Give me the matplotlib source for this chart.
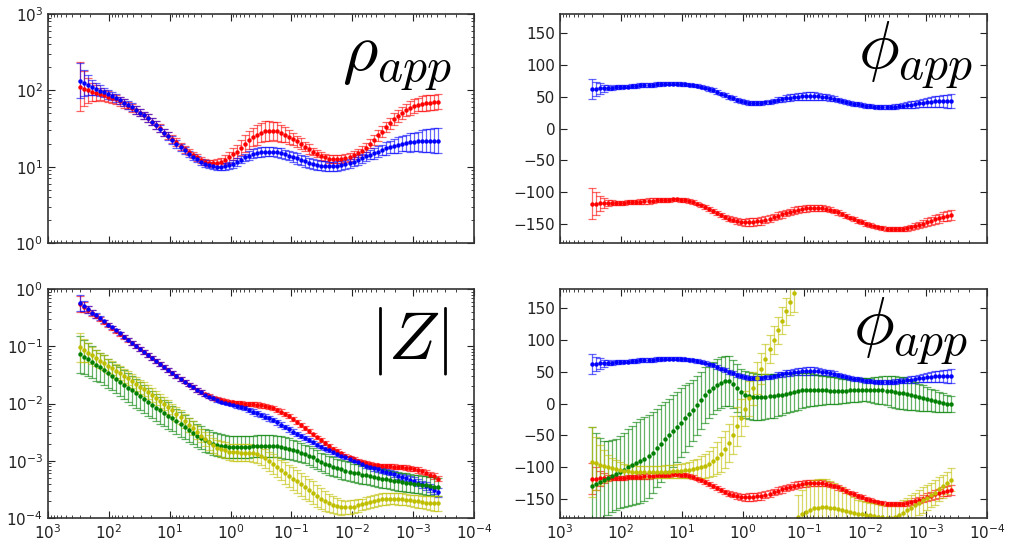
import numpy as np
import matplotlib
matplotlib.use("Agg")
import matplotlib.pyplot as plt
from matplotlib.ticker import LogLocator, NullFormatter, FixedLocator

plt.rcParams["mathtext.fontset"] = "cm"
plt.rcParams["font.family"] = ["DejaVu Sans"]

# Sounding frequencies (Hz), high to low
freq = np.logspace(2.475, -3.41, 90)

# Apparent resistivity (ohm-m)
rho_xy = [134, 125, 117, 110, 104, 99, 94, 89, 84, 79,
          74, 69, 64, 60, 55, 51, 47, 43, 39, 35,
          31.5, 28, 25, 22.5, 20, 18, 16.3, 14.8, 13.5, 12.5,
          11.6, 11, 10.5, 10.2, 10, 10, 10.1, 10.4, 10.9, 11.6,
          12.4, 13.2, 14, 14.7, 15.2, 15.6, 15.8, 15.8, 15.7, 15.5,
          15.1, 14.6, 14, 13.4, 12.8, 12.2, 11.7, 11.2, 10.8, 10.5,
          10.3, 10.2, 10.1, 10.1, 10.2, 10.4, 10.7, 11.1, 11.6, 12.2,
          12.9, 13.6, 14.3, 15, 15.8, 16.6, 17.3, 18, 18.7, 19.3,
          19.9, 20.4, 20.8, 21.1, 21.4, 21.6, 21.8, 21.9, 22, 22]
rho_yx = [111, 105, 100, 96, 92, 89, 86, 83, 79, 76,
          72, 68, 63, 59, 55, 51, 47, 43, 39, 35,
          32, 28, 25.5, 23, 21, 18.6, 17, 15.5, 14.1, 13.2,
          12.3, 11.6, 11.2, 11.1, 11.2, 11.6, 12.3, 13.2, 14.5, 15.8,
          17.8, 20, 22.4, 24.5, 26.3, 28, 29, 29.5, 29.5, 29,
          27.5, 26.3, 24.5, 23, 21.4, 20, 18.2, 17, 15.8, 14.8,
          13.8, 13.2, 12.7, 12.5, 12.5, 12.6, 12.9, 13.5, 14.1, 15.1,
          16.2, 17.8, 20, 22.4, 25.7, 28.8, 33, 37, 41.7, 45.7,
          50, 55, 59, 62, 65, 67, 68, 69, 70, 71]
# half-width of the resistivity error bars, in decades
rho_xy_err = [0.23, 0.17, 0.13, 0.1, 0.08, 0.07, 0.06, 0.06, 0.05, 0.05,
              0.05, 0.05, 0.05, 0.05, 0.05, 0.05, 0.05, 0.05, 0.05, 0.05,
              0.05, 0.05, 0.05, 0.05, 0.05, 0.045, 0.045, 0.04, 0.04, 0.04,
              0.04, 0.04, 0.04, 0.04, 0.045, 0.05, 0.05, 0.05, 0.05, 0.05,
              0.05, 0.05, 0.055, 0.06, 0.06, 0.06, 0.06, 0.06, 0.06, 0.06,
              0.06, 0.06, 0.06, 0.07, 0.07, 0.07, 0.07, 0.07, 0.07, 0.07,
              0.06, 0.06, 0.06, 0.06, 0.06, 0.06, 0.06, 0.06, 0.06, 0.06,
              0.06, 0.06, 0.06, 0.07, 0.07, 0.07, 0.08, 0.08, 0.09, 0.1,
              0.1, 0.11, 0.12, 0.12, 0.13, 0.14, 0.15, 0.15, 0.16, 0.16]
rho_yx_err = [0.32, 0.23, 0.16, 0.12, 0.1, 0.08, 0.07, 0.07, 0.06, 0.06,
              0.06, 0.06, 0.05, 0.05, 0.05, 0.05, 0.05, 0.05, 0.05, 0.05,
              0.05, 0.05, 0.05, 0.05, 0.05, 0.045, 0.045, 0.04, 0.04, 0.04,
              0.04, 0.04, 0.04, 0.045, 0.05, 0.05, 0.06, 0.07, 0.08, 0.09,
              0.1, 0.11, 0.12, 0.12, 0.13, 0.13, 0.13, 0.13, 0.12, 0.12,
              0.11, 0.1, 0.09, 0.08, 0.07, 0.07, 0.06, 0.06, 0.05, 0.05,
              0.05, 0.05, 0.05, 0.05, 0.05, 0.05, 0.05, 0.05, 0.05, 0.05,
              0.06, 0.06, 0.06, 0.06, 0.07, 0.07, 0.07, 0.07, 0.08, 0.08,
              0.08, 0.08, 0.09, 0.09, 0.09, 0.1, 0.1, 0.1, 0.1, 0.1]

# Phase (degrees)
phi_xy = [62, 62, 63, 63, 64, 64, 65, 65, 66, 66,
          67, 67, 68, 68, 68.5, 69, 69.5, 70, 70.5, 70.5,
          70.5, 70.5, 70, 69.5, 69, 68, 67, 65.5, 64, 62,
          60, 57.5, 55, 52.5, 50, 47.5, 45, 43, 41.5, 40.5,
          40, 40, 40.5, 41, 42, 43.5, 45, 46, 47.5, 48.5,
          49.5, 50, 50.5, 51, 51, 51, 50.5, 50, 49, 48,
          46.5, 45, 43.5, 42, 40.5, 39, 38, 37, 36, 35,
          34.5, 34, 34, 34, 34, 34.5, 35, 35.5, 36.5, 37.5,
          38.5, 39.5, 40.5, 41, 42, 42.5, 43, 43, 43, 43]
phi_yx = [-118, -118, -117.5, -117.5, -117, -117, -117, -116.5, -116.5, -116,
          -116, -115.5, -115, -114.5, -114, -113.5, -113, -112.5, -112, -112,
          -111.5, -111.5, -112, -113, -114, -116, -118, -121, -124, -127,
          -130, -133, -136, -139, -141.5, -143.5, -145, -146.5, -147, -147,
          -146.5, -146, -145, -143.5, -141.5, -139.5, -137, -135, -133, -131,
          -129, -127.5, -126.5, -125.5, -125, -124.5, -124.5, -125, -126, -127.5,
          -129.5, -132, -134.5, -137, -140, -142.5, -145, -147.5, -150, -152,
          -154, -155.5, -156.5, -157.5, -158, -158.5, -158.5, -158, -157, -155.5,
          -153.5, -151.5, -149.5, -147, -145, -143, -141, -139, -137.5, -136]
phi_xx = [-130, -127, -124, -120.5, -117, -114, -111, -107.5, -104, -100.5,
          -97, -93.5, -90, -86.5, -83, -77, -70, -63, -56, -49.5,
          -43, -36.5, -30, -23.5, -17, -10.5, -3, 5, 13, 20,
          25, 29.5, 33, 35, 35, 31, 24, 18, 14, 12,
          11, 10.5, 10.5, 11, 11.5, 12, 13, 14, 15.5, 17,
          18.5, 19.5, 20.5, 21, 21.5, 21.5, 21, 21, 20.5, 20,
          20, 20, 20, 20, 20.5, 21, 21, 21.5, 21.5, 21.5,
          21.5, 21, 20.5, 20, 19, 18, 17, 16, 14.5, 13,
          11.5, 10, 8.5, 7, 5.5, 4, 2.5, 1, 0, -1]
phi_yy = [-91.5, -94, -96.5, -98.5, -100.5, -102, -103.5, -104.5, -105.5, -106.5,
          -107, -107.5, -107.5, -107.5, -107.5, -107.5, -107.5, -107.5, -107, -107,
          -106.5, -106, -105.5, -105, -104.5, -103.5, -102, -100, -98, -95,
          -91, -86, -80, -72, -62, -50, -36, -22, -8, 8,
          24, 40, 55, 70, 85, 100, 115, 130, 145, 160,
          174, -178, -174, -170, -167, -165, -163.5, -163, -163, -163.5,
          -164.5, -166, -167.5, -169, -170.5, -172, -173, -174, -175, -176,
          -177, -178, -179, -179.5, -179.5, -179, -176, -172, -168, -164,
          -160, -156, -152, -148, -144, -140, -135, -130, -125, -120]
phi_xy_err = [16, 11, 8, 6, 4, 3, 3, 3, 3, 3,
              3, 3, 3, 3, 3, 3, 3, 2.5, 2.5, 2.5,
              2.5, 2.5, 2.5, 2.5, 2.5, 2.5, 2.5, 2.5, 2.5, 2.5,
              3, 3, 3, 3, 3, 3, 3, 3, 3, 3,
              3, 3, 3, 3, 3.5, 3.5, 4, 4, 4.5, 5,
              5, 5.5, 6, 6, 6, 6, 5.5, 5, 4.5, 4,
              4, 3.5, 3.5, 3.5, 3, 3, 3, 3, 3, 3,
              3, 3, 3, 3, 3, 3.5, 3.5, 4, 4.5, 5,
              5.5, 6, 6.5, 7, 7.5, 8, 8.5, 9, 10, 11]
phi_yx_err = [25, 18, 12, 8, 5, 4, 3.5, 3, 3, 3,
              3, 3, 3.5, 4, 4, 3.5, 3, 3, 3, 3,
              3, 3, 3, 3, 3, 3, 3, 3, 3, 3,
              3, 3, 3, 3, 3.5, 4, 4.5, 5, 5.5, 6,
              6, 6, 6, 5.5, 5, 5, 5, 5, 5, 5,
              5, 5, 5, 5, 5, 5, 4.5, 4, 4, 3.5,
              3.5, 3.5, 3, 3, 3, 3, 3, 3, 3, 3,
              3, 3, 3, 3, 3, 3, 3, 3.5, 3.5, 4,
              4.5, 5, 5.5, 6, 6, 6.5, 7, 7, 7.5, 8]
phi_xx_err = [93, 80, 70, 62, 58, 56, 56, 57, 58, 60,
              62, 64, 66, 66, 65, 64, 62, 60, 58, 57,
              56, 55, 54, 52, 50, 48, 47, 45, 44, 42,
              41, 40, 40, 39, 39, 38, 38, 37, 37, 37,
              37, 36, 36, 35, 35, 34, 33, 32, 31, 30,
              30, 29, 28, 27, 26, 25, 24, 23, 22, 21,
              21, 20, 19, 19, 18, 18, 18, 18, 18, 19,
              20, 21, 22, 23, 24, 25, 25, 25, 24, 23,
              22, 21, 20, 19, 18, 17, 16, 15, 14, 13]
phi_yy_err = [55, 42, 32, 25, 20, 16, 14, 12, 11, 10,
              10, 10, 10, 10, 10, 10, 10, 10, 10, 10,
              10, 11, 11, 12, 13, 14, 15, 17, 19, 21,
              23, 25, 27, 29, 30, 30, 30, 29, 28, 27,
              26, 25, 24, 23, 22, 22, 21, 21, 21, 21,
              30, 34, 38, 42, 44, 45, 45, 45, 44, 42,
              40, 37, 34, 31, 28, 25, 22, 20, 20, 20,
              20, 20, 20, 20, 20, 20, 20, 20, 20, 20,
              20, 20, 20, 20, 19, 19, 19, 18, 18, 18]

# Impedance magnitude, stored as log10 |Z|
logz_xy = [-0.25, -0.30, -0.355, -0.41, -0.46, -0.51, -0.565, -0.62, -0.67, -0.72,
           -0.775, -0.83, -0.885, -0.94, -0.995, -1.05, -1.10, -1.15, -1.205, -1.26,
           -1.31, -1.36, -1.415, -1.47, -1.52, -1.57, -1.62, -1.67, -1.715, -1.76,
           -1.80, -1.845, -1.88, -1.91, -1.94, -1.965, -1.985, -2.0, -2.02, -2.04,
           -2.06, -2.08, -2.11, -2.14, -2.17, -2.20, -2.23, -2.26, -2.29, -2.33,
           -2.37, -2.41, -2.45, -2.49, -2.53, -2.57, -2.61, -2.645, -2.68, -2.72,
           -2.755, -2.79, -2.82, -2.85, -2.88, -2.91, -2.94, -2.97, -3.0, -3.03,
           -3.06, -3.09, -3.11, -3.13, -3.15, -3.17, -3.19, -3.21, -3.23, -3.26,
           -3.28, -3.30, -3.33, -3.35, -3.38, -3.41, -3.44, -3.47, -3.51, -3.55]
logz_yx = [-0.26, -0.31, -0.365, -0.42, -0.47, -0.52, -0.575, -0.63, -0.68, -0.73,
           -0.785, -0.84, -0.89, -0.94, -0.995, -1.05, -1.10, -1.15, -1.205, -1.26,
           -1.31, -1.36, -1.415, -1.47, -1.52, -1.57, -1.62, -1.67, -1.715, -1.76,
           -1.80, -1.84, -1.87, -1.90, -1.92, -1.94, -1.955, -1.97, -1.98, -1.99,
           -1.995, -2.0, -2.005, -2.01, -2.02, -2.03, -2.045, -2.06, -2.08, -2.11,
           -2.14, -2.18, -2.22, -2.27, -2.32, -2.37, -2.43, -2.48, -2.54, -2.59,
           -2.64, -2.69, -2.74, -2.79, -2.83, -2.87, -2.91, -2.94, -2.97, -3.0,
           -3.02, -3.04, -3.055, -3.07, -3.08, -3.085, -3.09, -3.095, -3.10, -3.105,
           -3.11, -3.12, -3.13, -3.145, -3.16, -3.18, -3.21, -3.24, -3.27, -3.31]
logz_xx = [-1.14, -1.19, -1.23, -1.28, -1.33, -1.37, -1.42, -1.47, -1.52, -1.57,
           -1.62, -1.67, -1.72, -1.77, -1.82, -1.87, -1.92, -1.97, -2.02, -2.07,
           -2.12, -2.16, -2.21, -2.26, -2.31, -2.36, -2.41, -2.46, -2.51, -2.56,
           -2.60, -2.64, -2.67, -2.70, -2.72, -2.74, -2.75, -2.76, -2.765, -2.765,
           -2.76, -2.76, -2.755, -2.75, -2.745, -2.74, -2.74, -2.74, -2.745, -2.75,
           -2.76, -2.775, -2.79, -2.81, -2.83, -2.86, -2.88, -2.91, -2.94, -2.98,
           -3.02, -3.05, -3.08, -3.10, -3.13, -3.15, -3.17, -3.19, -3.21, -3.22,
           -3.24, -3.25, -3.27, -3.28, -3.30, -3.31, -3.32, -3.33, -3.35, -3.36,
           -3.37, -3.38, -3.39, -3.40, -3.41, -3.42, -3.43, -3.44, -3.45, -3.46]
logz_yy = [-1.02, -1.07, -1.11, -1.16, -1.20, -1.25, -1.29, -1.34, -1.38, -1.43,
           -1.47, -1.52, -1.56, -1.61, -1.66, -1.71, -1.75, -1.80, -1.85, -1.90,
           -1.95, -2.0, -2.06, -2.12, -2.18, -2.24, -2.30, -2.37, -2.43, -2.50,
           -2.56, -2.62, -2.68, -2.73, -2.77, -2.80, -2.82, -2.84, -2.85, -2.855,
           -2.86, -2.86, -2.86, -2.87, -2.89, -2.92, -2.96, -3.01, -3.06, -3.11,
           -3.16, -3.21, -3.26, -3.31, -3.36, -3.41, -3.46, -3.51, -3.56, -3.61,
           -3.66, -3.70, -3.74, -3.77, -3.79, -3.81, -3.815, -3.81, -3.80, -3.78,
           -3.76, -3.74, -3.72, -3.70, -3.685, -3.67, -3.665, -3.66, -3.66, -3.665,
           -3.67, -3.68, -3.69, -3.70, -3.71, -3.72, -3.73, -3.735, -3.74, -3.745]
# half-width of the |Z| error bars, in decades
logz_xy_err = [0.14, 0.09, 0.06, 0.05, 0.04, 0.035, 0.03, 0.03, 0.03, 0.03,
               0.03, 0.03, 0.03, 0.03, 0.03, 0.03, 0.03, 0.03, 0.03, 0.03,
               0.03, 0.03, 0.03, 0.03, 0.03, 0.03, 0.03, 0.03, 0.03, 0.03,
               0.03, 0.03, 0.03, 0.03, 0.03, 0.03, 0.03, 0.03, 0.03, 0.03,
               0.035, 0.035, 0.035, 0.04, 0.04, 0.04, 0.04, 0.04, 0.04, 0.04,
               0.04, 0.04, 0.04, 0.04, 0.04, 0.035, 0.035, 0.035, 0.03, 0.03,
               0.03, 0.03, 0.03, 0.03, 0.03, 0.03, 0.03, 0.03, 0.03, 0.03,
               0.035, 0.035, 0.035, 0.04, 0.04, 0.04, 0.045, 0.045, 0.05, 0.05,
               0.055, 0.055, 0.06, 0.06, 0.065, 0.065, 0.07, 0.07, 0.075, 0.08]
logz_yx_err = [0.14, 0.09, 0.06, 0.05, 0.04, 0.035, 0.03, 0.03, 0.03, 0.03,
               0.03, 0.03, 0.03, 0.03, 0.03, 0.03, 0.03, 0.03, 0.03, 0.03,
               0.03, 0.03, 0.03, 0.03, 0.03, 0.03, 0.03, 0.03, 0.03, 0.03,
               0.03, 0.03, 0.03, 0.03, 0.03, 0.03, 0.03, 0.03, 0.03, 0.03,
               0.035, 0.035, 0.035, 0.04, 0.04, 0.04, 0.04, 0.04, 0.04, 0.04,
               0.04, 0.04, 0.04, 0.04, 0.04, 0.035, 0.035, 0.035, 0.03, 0.03,
               0.03, 0.03, 0.03, 0.03, 0.03, 0.03, 0.03, 0.03, 0.03, 0.03,
               0.03, 0.03, 0.03, 0.03, 0.03, 0.03, 0.03, 0.035, 0.035, 0.035,
               0.04, 0.04, 0.04, 0.04, 0.045, 0.045, 0.045, 0.05, 0.05, 0.05]
logz_xx_err = [0.32, 0.3, 0.29, 0.28, 0.27, 0.26, 0.26, 0.25, 0.25, 0.25,
               0.25, 0.25, 0.25, 0.25, 0.25, 0.25, 0.25, 0.24, 0.24, 0.24,
               0.23, 0.23, 0.23, 0.22, 0.22, 0.22, 0.21, 0.21, 0.2, 0.2,
               0.2, 0.2, 0.2, 0.2, 0.2, 0.2, 0.2, 0.19, 0.19, 0.19,
               0.19, 0.19, 0.19, 0.19, 0.19, 0.19, 0.19, 0.19, 0.19, 0.19,
               0.19, 0.19, 0.18, 0.18, 0.17, 0.17, 0.16, 0.16, 0.16, 0.16,
               0.16, 0.16, 0.16, 0.16, 0.16, 0.16, 0.16, 0.16, 0.16, 0.16,
               0.16, 0.16, 0.16, 0.16, 0.16, 0.16, 0.16, 0.16, 0.16, 0.16,
               0.16, 0.16, 0.16, 0.16, 0.16, 0.16, 0.16, 0.16, 0.16, 0.16]
logz_yy_err = [0.25, 0.2, 0.17, 0.15, 0.14, 0.13, 0.13, 0.12, 0.12, 0.12,
               0.12, 0.12, 0.12, 0.12, 0.12, 0.12, 0.12, 0.12, 0.12, 0.12,
               0.12, 0.12, 0.12, 0.12, 0.12, 0.12, 0.12, 0.12, 0.12, 0.12,
               0.12, 0.12, 0.13, 0.13, 0.13, 0.14, 0.14, 0.14, 0.15, 0.15,
               0.15, 0.15, 0.15, 0.15, 0.15, 0.16, 0.16, 0.17, 0.17, 0.18,
               0.18, 0.19, 0.19, 0.2, 0.2, 0.2, 0.2, 0.2, 0.2, 0.19,
               0.18, 0.17, 0.16, 0.15, 0.14, 0.13, 0.12, 0.12, 0.11, 0.11,
               0.1, 0.1, 0.1, 0.1, 0.1, 0.1, 0.1, 0.1, 0.1, 0.1,
               0.1, 0.1, 0.1, 0.1, 0.11, 0.11, 0.12, 0.12, 0.13, 0.13]

x_ticks = [1e3, 1e2, 1e1, 1e0, 1e-1, 1e-2, 1e-3, 1e-4]
phase_ticks = [-150, -100, -50, 0, 50, 100, 150]

STYLE = dict(fmt="o", ms=3.2, elinewidth=0.9, capsize=3.2, capthick=0.9)


def draw_series(ax, v, yerr, color):
    line, caps, bars = ax.errorbar(freq, v, yerr=yerr, color=color,
                                   ecolor=color, **STYLE)
    line.set_markeredgewidth(0)
    for artist in list(caps) + list(bars):
        artist.set_alpha(0.6)


def log_errbar(ax, values, half_decades, color, values_are_log=False):
    v = np.asarray(values, dtype=float)
    if values_are_log:
        v = 10.0 ** v
    k = 10.0 ** np.asarray(half_decades, dtype=float)
    draw_series(ax, v, [v - v / k, v * k - v], color)


def lin_errbar(ax, values, err, color):
    draw_series(ax, np.asarray(values, dtype=float), err, color)


def style_axes(ax, show_xlabels):
    ax.set_xscale("log")
    ax.set_xlim(1e3, 1e-4)
    ax.xaxis.set_major_locator(FixedLocator(x_ticks))
    ax.xaxis.set_minor_locator(LogLocator(base=10, subs=np.arange(2, 10), numticks=20))
    ax.xaxis.set_minor_formatter(NullFormatter())
    ax.tick_params(which="both", direction="in", top=True, right=True,
                   labelsize=11, colors="#222222", labelcolor="#222222")
    ax.tick_params(which="major", length=5, width=0.8)
    ax.tick_params(which="minor", length=2.5, width=0.6)
    ax.tick_params(axis="x", which="major", pad=4)
    if not show_xlabels:
        ax.tick_params(labelbottom=False)
    for s in ax.spines.values():
        s.set_linewidth(1.2)
        s.set_color("#333333")


fig = plt.figure(figsize=(10.14, 5.43), dpi=100, facecolor="white")
H = 0.4217
ax_rho = fig.add_axes([0.0473, 0.5525, 0.4201, H])
ax_phi = fig.add_axes([0.5523, 0.5525, 0.4211, H])
ax_z = fig.add_axes([0.0473, 0.046, 0.4201, H])
ax_phi2 = fig.add_axes([0.5523, 0.046, 0.4211, H])

# apparent resistivity
log_errbar(ax_rho, rho_yx, rho_yx_err, "r")
log_errbar(ax_rho, rho_xy, rho_xy_err, "b")
ax_rho.set_yscale("log")
ax_rho.set_ylim(1, 1e3)

# phase of the off-diagonal terms
lin_errbar(ax_phi, phi_yx, phi_yx_err, "r")
lin_errbar(ax_phi, phi_xy, phi_xy_err, "b")

# impedance magnitude, all four components
log_errbar(ax_z, logz_yx, logz_yx_err, "r", values_are_log=True)
log_errbar(ax_z, logz_xy, logz_xy_err, "b", values_are_log=True)
log_errbar(ax_z, logz_xx, logz_xx_err, "g", values_are_log=True)
log_errbar(ax_z, logz_yy, logz_yy_err, "y", values_are_log=True)
ax_z.set_yscale("log")
ax_z.set_ylim(1e-4, 1)

# phase, all four components
lin_errbar(ax_phi2, phi_xy, phi_xy_err, "b")
lin_errbar(ax_phi2, phi_yx, phi_yx_err, "r")
lin_errbar(ax_phi2, phi_xx, phi_xx_err, "g")
lin_errbar(ax_phi2, phi_yy, phi_yy_err, "y")

for ax in (ax_phi, ax_phi2):
    ax.set_ylim(-180, 180)
    ax.yaxis.set_major_locator(FixedLocator(phase_ticks))

for ax in (ax_rho, ax_z):
    ax.yaxis.set_minor_locator(LogLocator(base=10, subs=np.arange(2, 10), numticks=20))
    ax.yaxis.set_minor_formatter(NullFormatter())

style_axes(ax_rho, False)
style_axes(ax_phi, False)
style_axes(ax_z, True)
style_axes(ax_phi2, True)

ax_rho.text(0.948, 0.945, r"$\rho_{app}$", transform=ax_rho.transAxes,
            fontsize=49, ha="right", va="top")
ax_phi.text(0.967, 0.975, r"$\phi_{app}$", transform=ax_phi.transAxes,
            fontsize=49, ha="right", va="top")
ax_z.text(0.939, 0.93, r"$|Z|$", transform=ax_z.transAxes,
          fontsize=49, ha="right", va="top")
ax_phi2.text(0.955, 0.97, r"$\phi_{app}$", transform=ax_phi2.transAxes,
             fontsize=49, ha="right", va="top")

fig.savefig("out.png", dpi=100, facecolor="white")
